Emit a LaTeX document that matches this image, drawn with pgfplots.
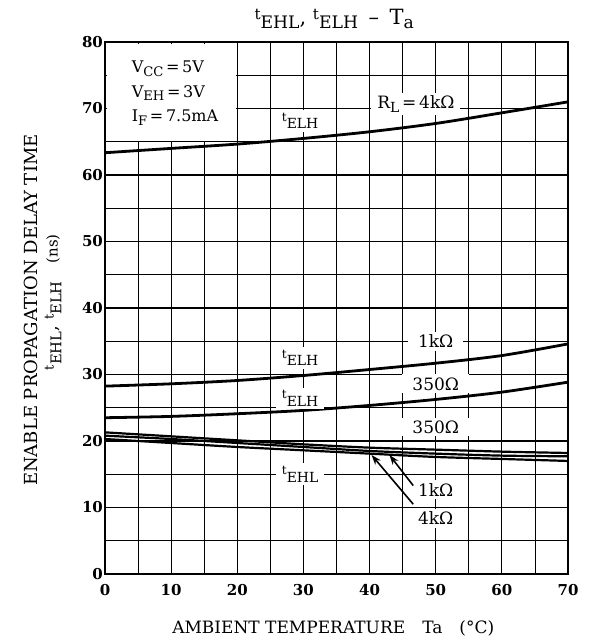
\documentclass[border=0pt]{standalone}
\usepackage{fontspec}
\setmainfont{DejaVu Serif}
\usepackage{graphicx}
\usepackage{pgfplots}
\pgfplotsset{compat=1.18}
\usetikzlibrary{arrows.meta}

% datasheet style: small raised t, near full size lowered subscript
\newcommand{\lsub}[1]{\raisebox{-0.4ex}{\scalebox{0.82}{#1}}}
\newcommand{\tsub}[1]{\raisebox{0.42ex}{\scalebox{0.72}{t}}\lsub{#1}}

\begin{document}
\begin{tikzpicture}
\path[use as bounding box] (-52.5pt,-33pt) rectangle (242pt,287pt);
\begin{axis}[
  scale only axis,
  width=231.5pt, height=266pt,
  xmin=0, xmax=70, ymin=0, ymax=80,
  xtick={0,10,...,70}, ytick={0,10,...,80},
  minor xtick={5,15,...,65}, minor ytick={5,15,...,75},
  grid=both,
  major grid style={black, line width=0.55pt},
  minor grid style={black, line width=0.4pt},
  major tick length=0pt, minor tick length=0pt,
  axis line style={black, line width=1.2pt},
  tick label style={font=\fontsize{7.5}{9}\selectfont\bfseries},
  /pgf/number format/assume math mode=true,
  xticklabel style={yshift=-1.5pt},
  yticklabel style={xshift=2.5pt},
  title={\tsub{EHL}, \tsub{ELH}\enspace–\enspace T\lsub{a}},
  title style={font=\fontsize{10.5}{12}\selectfont, at={(0.495,1)}, anchor=base, yshift=3pt},
  xlabel={AMBIENT TEMPERATURE\quad Ta\quad (°C)},
  xlabel style={font=\fontsize{8.5}{10}\selectfont, at={(axis description cs:0.493,0)}, anchor=base, yshift=-29.5pt},
  ylabel={ENABLE PROPAGATION DELAY TIME},
  ylabel style={font=\fontsize{9}{11}\selectfont, at={(axis description cs:-0.16,0.496)}, anchor=center},
  clip=false,
]
% conditions box
\fill[white] (axis cs:0.3,65.12) rectangle (axis cs:19.88,79.7);

% t_ELH, RL = 4k
\addplot[black, line width=1.4pt, smooth] coordinates
  {(0,63.35) (10,64.0) (20,64.65) (30,65.5) (40,66.5) (50,67.75) (60,69.35) (70,71.0)};
% t_ELH, RL = 1k
\addplot[black, line width=1.4pt, smooth] coordinates
  {(0,28.25) (10,28.6) (20,29.1) (30,29.85) (40,30.75) (50,31.7) (60,32.85) (70,34.6)};
% t_ELH, RL = 350
\addplot[black, line width=1.4pt, smooth] coordinates
  {(0,23.5) (10,23.7) (20,24.1) (30,24.6) (40,25.35) (50,26.25) (60,27.35) (70,28.85)};
% t_EHL, RL = 350
\addplot[black, line width=1.1pt, smooth] coordinates
  {(0,21.3) (10,20.7) (20,20.1) (30,19.5) (40,19.0) (50,18.7) (60,18.4) (70,18.2)};
% t_EHL, RL = 1k
\addplot[black, line width=1.1pt, smooth] coordinates
  {(0,20.8) (10,20.3) (20,19.7) (30,19.1) (40,18.5) (50,18.1) (60,17.8) (70,17.7)};
% t_EHL, RL = 4k
\addplot[black, line width=1.1pt, smooth] coordinates
  {(0,20.3) (10,19.7) (20,19.1) (30,18.6) (40,18.1) (50,17.6) (60,17.3) (70,17.0)};

% second line of the y label
\node[rotate=90, font=\fontsize{9}{11}\selectfont, anchor=center]
  at (axis description cs:-0.112,0.511) {\tsub{EHL}, \tsub{ELH}\quad {\fontsize{7.5}{9}\selectfont(ns)}};

% labels
\begin{scope}[every node/.style={font=\fontsize{8.5}{10}\selectfont, fill=white, inner xsep=3pt, inner ysep=1.5pt}]
\node[anchor=west, fill=none, align=left, inner sep=0pt, font=\fontsize{8}{12.3}\selectfont]
  at (axis cs:4,72.3) {V\lsub{CC}\,=\,5V\\V\lsub{EH}\,=\,3V\\I\lsub{F}\,=\,7.5mA};
\node at (axis cs:29.5,68.1) {\tsub{ELH}};
\node at (axis cs:47,70.7) {R\lsub{L}\,=\,4kΩ};
\node at (axis cs:29.5,32.5) {\tsub{ELH}};
\node[inner xsep=5pt] at (axis cs:50,35.0) {1kΩ};
\node at (axis cs:29.5,26.4) {\tsub{ELH}};
\node[inner xsep=5pt] at (axis cs:50,28.6) {350Ω};
\node[inner xsep=5pt] at (axis cs:50,22.1) {350Ω};
\node at (axis cs:29.5,15.0) {\tsub{EHL}};
\node[inner xsep=5pt] at (axis cs:50,12.7) {1kΩ};
\node[inner xsep=5pt] at (axis cs:50,8.4) {4kΩ};
\end{scope}
\draw[-{Stealth[length=5pt,width=3.5pt]}, line width=0.8pt] (axis cs:46.6,13.3) -- (axis cs:43.0,17.9);
\draw[-{Stealth[length=5pt,width=3.5pt]}, line width=0.8pt] (axis cs:46.6,10.5) -- (axis cs:40.3,17.9);
\end{axis}
\end{tikzpicture}
\end{document}
